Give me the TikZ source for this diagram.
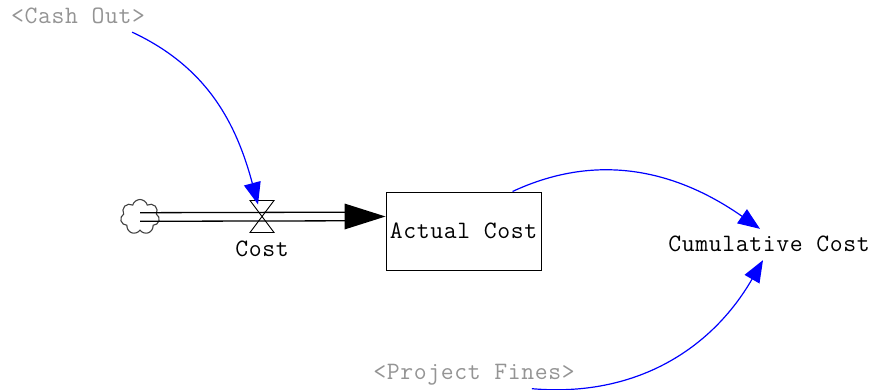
\documentclass[tikz,border=0pt]{standalone}
\usepackage{fontspec}
\newfontfamily\simfont{Latin Modern Mono}[LetterSpace=2.5]
\usetikzlibrary{positioning,arrows.meta,shapes.symbols,calc}

\begin{document}
\begin{tikzpicture}[x=1pt,y=1pt]
	\tikzset{
		var/.style={font=\simfont\fontsize{25}{26}\selectfont, inner sep=0pt},
		ghost/.style={var, text=black!42},
		stock/.style={var, draw, line width=1pt, minimum width=155pt, minimum height=78pt},
		link/.style={blue, line width=1.2pt, -{Triangle[length=22pt,width=17pt]}},
		pipe/.style={line width=1.3pt},
	}
	\useasboundingbox (0,0) rectangle (883,389);

	% stock, source cloud and flow valve
	\node[stock](ac) at (463.5,158){Actual Cost};
	\node[cloud, draw=black!75, line width=1.1pt, cloud puffs=7, aspect=1.1,
		minimum width=39pt, minimum height=35pt, inner sep=0pt](src) at (140,172){};
	\coordinate(valve) at (262,172.5);
	\coordinate(inflow) at ([yshift=14.5pt]ac.west);
	\node[var, below=24pt of valve](cost){Cost};

	% flow pipe
	\draw[pipe] ([yshift=4.3pt]src.center) -- ([xshift=-40pt,yshift=4.3pt]inflow);
	\draw[pipe] ([yshift=-4.3pt]src.center) -- ([xshift=-40pt,yshift=-4.3pt]inflow);
	\fill ([xshift=-41pt,yshift=13pt]inflow) -- (inflow) -- ([xshift=-41pt,yshift=-13pt]inflow) -- cycle;
	\draw[line width=0.9pt] ($(valve)+(-12,16)$) -- ++(24,0) -- ++(-24,-32) -- ++(24,0) -- cycle;

	% auxiliaries and shadow variables
	\node[var](cum) at (769,145){Cumulative Cost};
	\node[ghost](cash) at (78,373){<Cash Out>};
	\node[ghost](fines) at (474,14){<Project Fines>};

	% links
	\draw[link] ([shift={(-13pt,-8pt)}]cash.south east) to[out=-25,in=105] ([shift={(-4pt,12pt)}]valve);
	\draw[link] ([xshift=-29pt]ac.north east) to[out=25,in=145] ([shift={(-9pt,7pt)}]cum.north);
	\draw[link] ([shift={(-43pt,-3pt)}]fines.south east) to[out=-5,in=-120] ([shift={(-6pt,-8pt)}]cum.south);
\end{tikzpicture}
\end{document}
